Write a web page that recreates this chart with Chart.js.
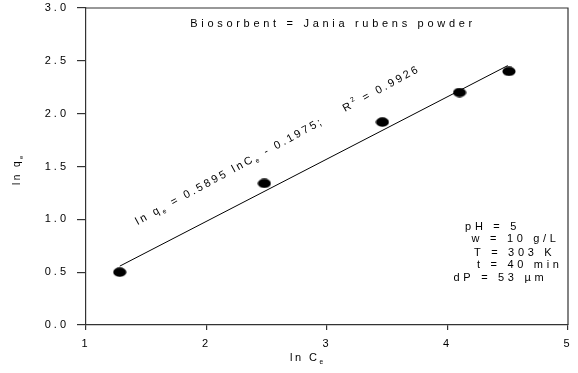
<!DOCTYPE html>
<html><head><meta charset="utf-8">
<script src="https://cdn.jsdelivr.net/npm/chart.js@4/dist/chart.umd.min.js"></script>
<style>html,body{margin:0;padding:0;background:#fff}#wrap{width:578px;height:373px}</style>
</head><body><div id="wrap"><canvas id="c"></canvas></div>
<script>
const lnCe = [1.28, 2.48, 3.46, 4.10, 4.51];
const lnQe = [0.50, 1.34, 1.92, 2.20, 2.40];
const fitX = [1.28, 4.50];
const fitY = [0.557, 2.455];
const xTicks = [1, 2, 3, 4, 5];
const yTicks = [0.0, 0.5, 1.0, 1.5, 2.0, 2.5, 3.0];
const titleText = 'Biosorbent = Jania rubens powder';
const conditions = ['pH = 5', 'w = 10 g/L', 'T = 303 K', 't = 40 min', 'dP = 53 \u00b5m'];

const FONT = '"Liberation Sans", Arial, sans-serif';
const SP = '3px';

// elliptical marker
const dot = document.createElement('canvas');
dot.width = 14; dot.height = 10;
{ const g = dot.getContext('2d'); g.fillStyle = '#000'; g.beginPath(); g.ellipse(7, 5, 6.6, 4.7, 0, 0, Math.PI * 2); g.fill(); }

function rich(ctx, x, y, parts, size, angle, spacing) {
  ctx.save();
  ctx.translate(x, y); ctx.rotate(angle || 0);
  ctx.fillStyle = '#000'; ctx.textBaseline = 'alphabetic'; ctx.textAlign = 'left';
  let cx = 0;
  for (const p of parts) {
    const small = p.sub || p.sup;
    const fs = small ? size * 0.6 : size;
    ctx.font = fs + 'px ' + FONT;
    ctx.letterSpacing = spacing;
    const dy = p.sub ? size * 0.25 : (p.sup ? -size * 0.5 : 0);
    ctx.fillText(p.t, cx, dy);
    cx += ctx.measureText(p.t).width;
  }
  ctx.restore();
}

const spacingPlugin = {
  id: 'spacing',
  beforeUpdate(c) { c.ctx.letterSpacing = SP; },
  beforeLayout(c) { c.ctx.letterSpacing = SP; },
  beforeDraw(c) { c.ctx.letterSpacing = SP; }
};

const textPlugin = {
  id: 'texts',
  afterDraw(chart) {
    const ctx = chart.ctx, a = chart.chartArea;
    const xs = chart.scales.x, ys = chart.scales.y;
    // frame top/right
    ctx.save();
    ctx.strokeStyle = '#333'; ctx.lineWidth = 1.2;
    ctx.beginPath();
    ctx.moveTo(a.left, a.top); ctx.lineTo(a.right, a.top); ctx.lineTo(a.right, a.bottom);
    ctx.stroke();
    ctx.restore();
    // title inside
    rich(ctx, xs.getPixelForValue(1.865), ys.getPixelForValue(2.82), [{t: titleText}], 11, 0, '3.7px');
    // equation
    const ang = -28.6 * Math.PI / 180;
    rich(ctx, xs.getPixelForValue(1.43), ys.getPixelForValue(0.946), [
      {t: 'ln q'}, {t: 'e', sub: 1}, {t: ' = 0.5895 lnC'}, {t: 'e', sub: 1}, {t: ' - 0.1975;'}
    ], 11, ang, '2.6px');
    rich(ctx, xs.getPixelForValue(3.15), ys.getPixelForValue(2.015), [
      {t: 'R'}, {t: '2', sup: 1}, {t: ' = 0.9926'}
    ], 11, ang, '2.6px');
    // conditions
    const lefts = [4.146, 4.20, 4.22, 4.245, 4.05];
    const ys0 = [0.90, 0.79, 0.655, 0.54, 0.415];
    conditions.forEach((s, i) => {
      rich(ctx, xs.getPixelForValue(lefts[i]), ys.getPixelForValue(ys0[i]), [{t: s}], 11, 0, '3.7px');
    });
    // axis titles
    rich(ctx, 290, 361, [{t: 'ln C'}, {t: 'e', sub: 1}], 11, 0, '2.5px');
    rich(ctx, 20, 185, [{t: 'ln q'}, {t: 'e', sub: 1}], 10, -Math.PI / 2, '2.5px');
  }
};

new Chart(document.getElementById('c'), {
  type: 'scatter',
  data: {
    datasets: [
      {
        data: lnCe.map((x, i) => ({x, y: lnQe[i]})),
        pointStyle: dot, pointRadius: 6, showLine: false
      },
      {
        data: fitX.map((x, i) => ({x, y: fitY[i]})),
        showLine: true, borderColor: '#000', borderWidth: 1, pointRadius: 0
      }
    ]
  },
  options: {
    responsive: true, maintainAspectRatio: false, animation: false,
    layout: {padding: {top: 8, right: 10, left: 0, bottom: 0}},
    plugins: {legend: {display: false}, tooltip: {enabled: false}},
    scales: {
      x: {
        type: 'linear', min: 1, max: 5,
        afterBuildTicks: s => { s.ticks = xTicks.map(v => ({value: v})); },
        afterFit: s => { s.height = 48; s.paddingLeft = 0; s.paddingRight = 0; },
        border: {color: '#333', width: 1.2},
        grid: {drawOnChartArea: false, tickLength: 5, color: '#333', lineWidth: 1.2},
        ticks: {color: '#000', font: {family: FONT, size: 11}, padding: 7, callback: v => String(v)}
      },
      y: {
        min: 0, max: 3,
        afterBuildTicks: s => { s.ticks = yTicks.map(v => ({value: v})); },
        afterFit: s => { s.width = 86; s.paddingTop = 0; s.paddingBottom = 0; },
        border: {color: '#333', width: 1.2},
        grid: {drawOnChartArea: false, tickLength: 9, color: '#333', lineWidth: 1.2},
        ticks: {color: '#000', font: {family: FONT, size: 11}, padding: 8, callback: v => Number(v).toFixed(1)}
      }
    }
  },
  plugins: [spacingPlugin, textPlugin]
});
</script></body></html>
